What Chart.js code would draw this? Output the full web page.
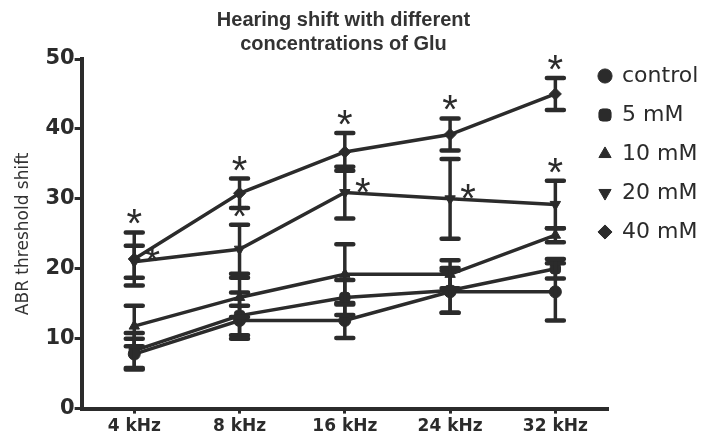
<!DOCTYPE html>
<html>
<head>
<meta charset="utf-8">
<script src="https://cdn.jsdelivr.net/npm/chart.js@4.4.1/dist/chart.umd.min.js"></script>
<style>
  html, body { margin: 0; padding: 0; background: #ffffff; }
  #wrap { width: 708px; height: 442px; position: relative; }
</style>
</head>
<body>
<div id="wrap"><canvas id="c" width="708" height="442"></canvas></div>
<script>
// ---- data ----
const categories = ['4 kHz', '8 kHz', '16 kHz', '24 kHz', '32 kHz'];
const seriesNames = ['control', '5 mM', '10 mM', '20 mM', '40 mM'];

const controlMean = [7.8, 12.6, 12.6, 16.7, 16.7];
const controlErr  = [2.2, 2.1, 2.5, 3.0, 4.1];

const mM5Mean = [8.3, 13.3, 15.9, 16.9, 20.0];
const mM5Err  = [2.5, 3.3, 2.5, 3.2, 1.4];

const mM10Mean = [11.8, 15.9, 19.2, 19.2, 24.8];
const mM10Err  = [2.9, 2.8, 4.3, 2.0, 1.0];

const mM20Mean = [21.0, 22.8, 30.9, 30.0, 29.2];
const mM20Err  = [2.3, 3.5, 3.7, 5.7, 3.4];

const mM40Mean = [21.4, 30.8, 36.7, 39.2, 45.0];
const mM40Err  = [3.8, 2.1, 2.7, 2.3, 2.3];

// significance markers (1 = asterisk shown)
const mM20Sig = [1, 1, 1, 1, 1];
const mM40Sig = [1, 1, 1, 1, 1];

const yTicks = [0, 10, 20, 30, 40, 50];

// ---- styling ----
const INK = '#2b2b2b';

const errorBarPlugin = {
  id: 'errorBars',
  afterDatasetsDraw(chart, args, opts) {
    const ctx = chart.ctx;
    const xs = chart.scales.x, ys = chart.scales.y;
    ctx.save();
    ctx.strokeStyle = opts.color;
    chart.data.datasets.forEach((ds) => {
      if (!ds.errors) return;
      ds.data.forEach((v, j) => {
        const e = ds.errors[j];
        const px = xs.getPixelForValue(j);
        const t = ys.getPixelForValue(v + e);
        const b = ys.getPixelForValue(v - e);
        ctx.lineCap = 'butt';
        ctx.lineWidth = opts.lineWidth;
        ctx.beginPath(); ctx.moveTo(px, t); ctx.lineTo(px, b); ctx.stroke();
        ctx.lineCap = 'round';
        ctx.lineWidth = opts.capThickness;
        const hw = opts.capWidth / 2;
        ctx.beginPath();
        ctx.moveTo(px - hw, t); ctx.lineTo(px + hw, t);
        ctx.moveTo(px - hw, b); ctx.lineTo(px + hw, b);
        ctx.stroke();
      });
    });
    ctx.restore();
  }
};

const asteriskPlugin = {
  id: 'asterisks',
  afterDatasetsDraw(chart, args, opts) {
    const ctx = chart.ctx;
    const xs = chart.scales.x, ys = chart.scales.y;
    ctx.save();
    ctx.fillStyle = opts.color;
    ctx.font = opts.font;
    ctx.textAlign = 'center';
    ctx.textBaseline = 'alphabetic';
    chart.data.datasets.forEach((ds, i) => {
      if (!ds.sig) return;
      const place = opts.placement[i] || [];
      ds.data.forEach((v, j) => {
        if (!ds.sig[j]) return;
        const px = xs.getPixelForValue(j);
        let cx, cy;
        if (place[j] === 'right') {
          cx = px + opts.rightDx;
          cy = ys.getPixelForValue(v) + opts.rightDy;
        } else {
          cx = px;
          cy = ys.getPixelForValue(v + ds.errors[j]) - opts.topGap;
        }
        ctx.fillText('*', cx, cy + opts.baselineShift);
      });
    });
    ctx.restore();
  }
};

// nudges the legend so that it overlaps the right end of the axis like the reference
const legendShiftPlugin = {
  id: 'legendShift',
  afterLayout(chart, args, opts) {
    const l = chart.legend;
    if (!l) return;
    l.left += opts.dx;
    l.right = chart.width;
    l.top += opts.dy;
  }
};

function makeDs(label, data, errors, style, rotation, sig) {
  return {
    label, data, errors, sig,
    borderColor: INK, backgroundColor: INK,
    borderWidth: 3.5,
    pointStyle: style, pointRotation: rotation,
    pointRadius: 6, pointHoverRadius: 6,
    pointBackgroundColor: INK, pointBorderColor: INK, pointBorderWidth: 1,
    tension: 0, fill: false
  };
}

const datasets = [
  makeDs(seriesNames[0], controlMean, controlErr, 'circle', 0, null),
  makeDs(seriesNames[1], mM5Mean, mM5Err, 'rectRounded', 0, null),
  makeDs(seriesNames[2], mM10Mean, mM10Err, 'triangle', 0, null),
  makeDs(seriesNames[3], mM20Mean, mM20Err, 'triangle', 180, mM20Sig),
  makeDs(seriesNames[4], mM40Mean, mM40Err, 'rectRot', 0, mM40Sig)
];

new Chart(document.getElementById('c'), {
  type: 'line',
  data: { labels: categories, datasets },
  plugins: [errorBarPlugin, asteriskPlugin, legendShiftPlugin],
  options: {
    responsive: false,
    animation: false,
    events: [],
    layout: { padding: { left: 9, right: 30, top: 0, bottom: 2 } },
    plugins: {
      title: {
        display: true,
        text: ['Hearing shift with different', 'concentrations of Glu'],
        color: '#333',
        font: { family: 'Liberation Sans', weight: 'bold', size: 20, lineHeight: 1.2 },
        padding: { top: 8, bottom: 3 }
      },
      legend: {
        position: 'right',
        align: 'start',
        fullSize: false,
        maxWidth: 70,
        labels: {
          usePointStyle: true,
          boxWidth: 12,
          boxHeight: 10,
          padding: 17,
          color: '#2b2b2b',
          font: { family: 'DejaVu Sans', size: 22 }
        }
      },
      tooltip: { enabled: false },
      errorBars: { color: INK, lineWidth: 3.5, capThickness: 4.5, capWidth: 17 },
      asterisks: {
        color: INK,
        font: '40px "Liberation Sans"',
        placement: [[], [], [], ['right', 'top', 'right', 'right', 'top'], ['top', 'top', 'top', 'top', 'top']],
        topGap: 17,
        rightDx: 18,
        rightDy: -9,
        baselineShift: 22
      },
      legendShift: { dx: -26, dy: -11 }
    },
    scales: {
      x: {
        type: 'category',
        offset: true,
        border: { display: true, color: INK, width: 4 },
        grid: { display: true, drawOnChartArea: false, drawTicks: true, tickLength: 5, tickWidth: 3, tickColor: INK, offset: false },
        ticks: {
          color: '#2b2b2b',
          padding: 3,
          font: { family: 'DejaVu Sans', weight: 'bold', size: 17 }
        }
      },
      y: {
        min: 0, max: 50,
        afterBuildTicks(scale) { scale.ticks = yTicks.map(v => ({ value: v })); },
        border: { display: true, color: INK, width: 4 },
        grid: { display: true, drawOnChartArea: false, drawTicks: true, tickLength: 7, tickWidth: 3, tickColor: INK },
        ticks: {
          color: '#2b2b2b',
          padding: 0,
          font: { family: 'DejaVu Sans', weight: 'bold', size: 21 }
        },
        title: {
          display: true,
          text: 'ABR threshold shift',
          color: '#333',
          font: { family: 'DejaVu Sans', size: 17 },
          padding: { top: 4, bottom: 12 }
        }
      }
    }
  }
});
</script>
</body>
</html>
